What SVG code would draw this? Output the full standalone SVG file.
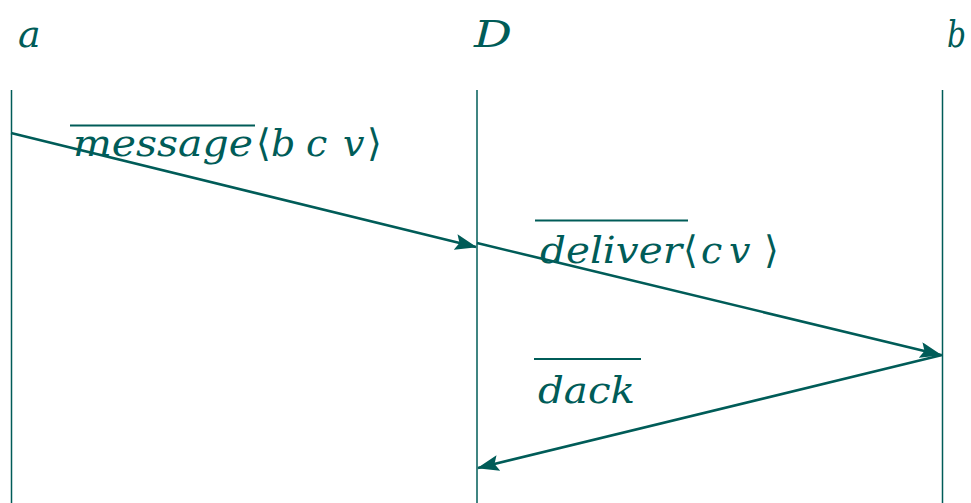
<svg xmlns="http://www.w3.org/2000/svg" width="971" height="503" viewBox="0 0 971 503">
<style>
.life{stroke:#005c58;stroke-width:1.5;fill:none}
.msg{stroke:#005c58;stroke-width:2.6;fill:none}
.ov{stroke:#005c58;stroke-width:2;fill:none}
.t{font-family:'DejaVu Serif',serif;font-size:38px;fill:#005c58}
.it{font-style:italic}
.up{font-style:normal}
</style>
<defs>
<marker id="ah" viewBox="0 0 22 16" refX="21" refY="8" markerWidth="22" markerHeight="16" markerUnits="userSpaceOnUse" orient="auto">
<path d="M0,0 L22,8 L0,16 L4,8 Z" fill="#005c58"/>
</marker>
</defs>
<g id="node-a">
<text class="t it" x="18" y="47">a</text>
<line class="life" x1="11.5" y1="90" x2="11.5" y2="503"/>
</g>
<g id="node-D">
<text class="t it" x="474" y="47" textLength="38" lengthAdjust="spacingAndGlyphs">D</text>
<line class="life" x1="477" y1="90" x2="477" y2="503"/>
</g>
<g id="node-b">
<text class="t it" x="947" y="47" textLength="19" lengthAdjust="spacingAndGlyphs">b</text>
<line class="life" x1="942.5" y1="90" x2="942.5" y2="503"/>
</g>
<g id="connectors">
<line class="msg" x1="11" y1="133" x2="476" y2="247" marker-end="url(#ah)"/>
<line class="msg" x1="477" y1="243" x2="941" y2="355" marker-end="url(#ah)"/>
<line class="msg" x1="942" y1="355" x2="478" y2="468" marker-end="url(#ah)"/>
</g>
<g id="label-message">
<line class="ov" x1="70" y1="125.5" x2="255" y2="125.5"/>
<text class="t" x="73" y="156"><tspan class="it" textLength="180" lengthAdjust="spacingAndGlyphs">message</tspan><tspan class="up" x="256">⟨</tspan><tspan class="it" x="271">b</tspan><tspan class="it" x="306">c</tspan><tspan class="it" x="343">v</tspan><tspan class="up" x="367">⟩</tspan></text>
</g>
<g id="label-deliver">
<line class="ov" x1="535" y1="220.5" x2="688" y2="220.5"/>
<text class="t" x="540" y="263"><tspan class="it" textLength="142" lengthAdjust="spacingAndGlyphs">deliver</tspan><tspan class="up" x="683">⟨</tspan><tspan class="it" x="701">c</tspan><tspan class="it" x="729">v</tspan><tspan class="up" x="764">⟩</tspan></text>
</g>
<g id="label-dack">
<line class="ov" x1="534" y1="359" x2="641" y2="359"/>
<text class="t it" x="538" y="403" textLength="97" lengthAdjust="spacingAndGlyphs">dack</text>
</g>
</svg>
